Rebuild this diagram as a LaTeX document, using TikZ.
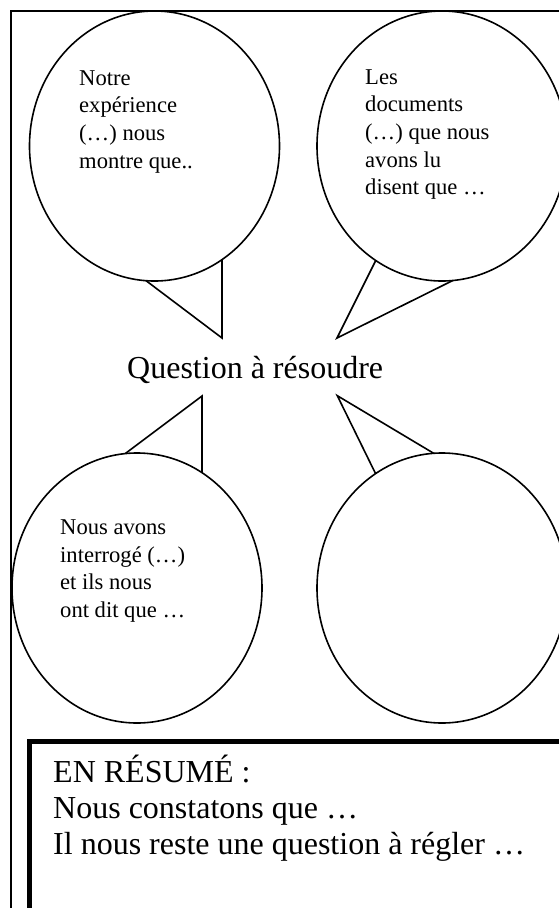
\documentclass[tikz,border=0pt]{standalone}
\usepackage{fontspec}
\setmainfont{Liberation Serif}
\usetikzlibrary{shapes.geometric}
\begin{document}
\begin{tikzpicture}[x=1pt,y=-1pt,
  bubble/.style={draw, ellipse, fill=white, line width=1.6pt,
    minimum width=250pt, minimum height=270pt, inner sep=0pt},
  tail/.style={draw, fill=white, line width=1.6pt, line join=miter},
  btext/.style={anchor=base west, inner sep=0pt, font=\fontsize{22.6}{27.7}\selectfont},
  bigtext/.style={anchor=base west, inner sep=0pt, font=\fontsize{32}{36}\selectfont},
  frameline/.style={line width=2.2pt},
  boxline/.style={line width=5pt}]
\useasboundingbox (0,0) rectangle (559,908);
\clip (0,0) rectangle (559,908);
\fill[white] (0,0) rectangle (559,908);

% tail tips
\coordinate (tip1) at (222,338);
\coordinate (tip2) at (337,338);
\coordinate (tip3) at (202,396);
\coordinate (tip4) at (337.3,395.7);

% tails (drawn first, bases hidden by the bubbles)
\draw[tail] (116,258) -- (tip1) -- (222,230) -- cycle;
\draw[tail] (392,228) -- (tip2) -- (480,267) -- cycle;
\draw[tail] (110,465) -- (tip3) -- (202,500) -- cycle;
\draw[tail] (390,503) -- (tip4) -- (470,475) -- cycle;

% bubbles
\node[bubble] (b1) at (154.5,146) {};
\node[bubble] (b2) at (442,146) {};
\node[bubble] (b3) at (137,588) {};
\node[bubble] (b4) at (442,588) {};

% bubble texts
\node[btext] (t1) at (79,85) {\begin{tabular}[t]{@{}l@{}}Notre\\expérience\\(…) nous\\montre que..\end{tabular}};
\node[btext] (t2) at (365,84) {\begin{tabular}[t]{@{}l@{}}Les\\documents\\(…) que nous\\avons lu\\disent que …\end{tabular}};
\node[btext] (t3) at (60,534.3) {\begin{tabular}[t]{@{}l@{}}Nous avons\\interrogé (…)\\et ils nous\\ont dit que …\end{tabular}};

% central question
\node[bigtext] (q) at (127,378) {Question à résoudre};

% outer frame
\draw[frameline] (11.3,950) -- (11.3,11.3) -- (620,11.3);

% summary box
\draw[boxline] (29.5,950) -- (29.5,741.7) -- (620,741.7);
\node[bigtext] (s) at (53,782.7) {\begin{tabular}[t]{@{}l@{}}EN RÉSUMÉ :\\Nous constatons que …\\Il nous reste une question à régler …\end{tabular}};
\end{tikzpicture}
\end{document}
